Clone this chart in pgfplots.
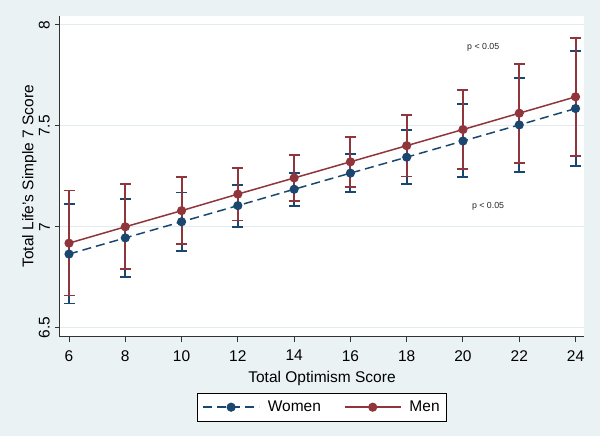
\documentclass[border=0pt]{standalone}
\usepackage{fontspec}
\setmainfont{Liberation Sans}
\usepackage{pgfplots}
\usepackage{pgfplotstable}
\pgfplotsset{compat=1.18}
\definecolor{stnavy}{HTML}{1A476F}
\definecolor{stmaroon}{HTML}{90353B}
\definecolor{stbg}{HTML}{EAF2F3}
\definecolor{stgrid}{HTML}{E2ECEF}
\newcommand{\mainfont}{\fontsize{15.5}{18}\selectfont}
\newcommand{\smallfont}{\fontsize{8.8}{10}\selectfont}

% x = optimism score, y = predicted LS7, lo/hi = 95% CI
\pgfplotstableread{
x  y     lo    hi
6  6.865 6.620 7.112
8  6.945 6.752 7.139
10 7.025 6.881 7.170
12 7.105 7.001 7.208
14 7.186 7.104 7.266
16 7.266 7.172 7.360
18 7.345 7.214 7.479
20 7.425 7.246 7.607
22 7.505 7.272 7.739
24 7.586 7.303 7.871
}\women
\pgfplotstableread{
x  y     lo    hi
6  6.919 6.660 7.180
8  7.000 6.791 7.213
10 7.080 6.914 7.246
12 7.162 7.031 7.292
14 7.242 7.127 7.356
16 7.322 7.198 7.444
18 7.402 7.249 7.554
20 7.482 7.287 7.678
22 7.563 7.318 7.805
24 7.644 7.350 7.934
}\men

\begin{document}
\begin{tikzpicture}
\fill[stbg] (-60pt,-99pt) rectangle (540pt,337pt);
\begin{axis}[
  scale only axis, width=524pt, height=321.3pt,
  at={(0,0)}, anchor=south west,
  xmin=5.68, xmax=24.3, ymin=6.454, ymax=8.046,
  axis background/.style={fill=white},
  axis x line*=bottom, axis y line*=left,
  axis line style={-, line width=1pt, black!80},
  xtick={6,8,...,24}, ytick={6.5,7,7.5,8},
  yticklabels={6.5,7,7.5,8},
  tick align=outside, major tick length=5pt,
  tick style={line width=1pt, black!80},
  ymajorgrids, grid style={stgrid, line width=1pt},
  /pgf/number format/assume math mode=true,
  ticklabel style={font=\mainfont},
  xticklabel style={anchor=north, inner sep=0pt},
  yticklabel style={rotate=90, anchor=south, inner sep=0pt},
  xticklabel shift=8pt, yticklabel shift=5pt,
  every axis x label/.style={at={(axis description cs:0.5,-0.141)}, anchor=base, font=\mainfont},
  every axis y label/.style={at={(axis description cs:-0.05095,0.5)}, rotate=90, anchor=base, font=\mainfont},
  xlabel={Total Optimism Score},
  ylabel={Total Life's Simple 7 Score},
  legend columns=2,
  legend style={at={(0.5,-0.1734)}, anchor=north, draw=black, line width=0.8pt,
    fill=white, font=\mainfont, inner xsep=5pt, inner ysep=6pt,
    /tikz/every odd column/.append style={column sep=6pt},
    /tikz/every even column/.append style={column sep=21pt}},
  legend image code/.code={\draw[mark repeat=2, mark phase=2, #1]
    plot coordinates {(0pt,0pt) (28pt,0pt) (56pt,0pt)};},
  clip=false,
]
\addplot[stnavy, line width=1.5pt, dash pattern=on 9pt off 5pt,
  mark=*, mark size=3.8pt, mark options={solid, fill=stnavy},
  error bars/.cd, y dir=both, y explicit,
  error bar style={line width=2pt, solid, stnavy},
  error mark options={rotate=90, mark size=5.5pt, line width=1.8pt, stnavy}]
  table[x=x, y=y, y error plus expr=\thisrow{hi}-\thisrow{y},
        y error minus expr=\thisrow{y}-\thisrow{lo}] {\women};
\addlegendentry{Women}
\addplot[stmaroon, line width=1.5pt,
  mark=*, mark size=3.8pt, mark options={solid, fill=stmaroon},
  error bars/.cd, y dir=both, y explicit,
  error bar style={line width=2pt, solid, stmaroon},
  error mark options={rotate=90, mark size=5.5pt, line width=1.8pt, stmaroon}]
  table[x=x, y=y, y error plus expr=\thisrow{hi}-\thisrow{y},
        y error minus expr=\thisrow{y}-\thisrow{lo}] {\men};
\addlegendentry{Men}
\node[font=\smallfont, text=black!85] at (axis cs:20.72,7.8885) {p < 0.05};
\node[font=\smallfont, text=black!85] at (axis cs:20.89,7.0996) {p < 0.05};
\end{axis}
\pgfresetboundingbox
\path[use as bounding box] (-60pt,-99pt) rectangle (540pt,337pt);
\end{tikzpicture}
\end{document}
